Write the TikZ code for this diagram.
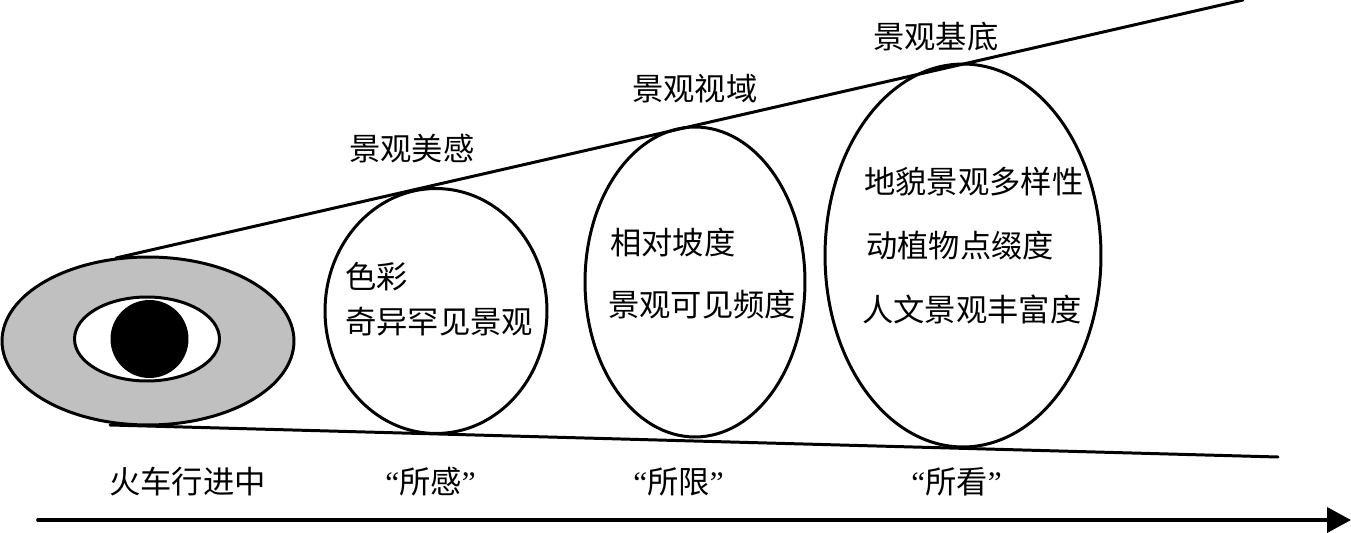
\documentclass[tikz,border=0pt]{standalone}
\usepackage{fontspec}
\usepackage{xcolor}
\usetikzlibrary{shapes.geometric,arrows.meta}
\newfontfamily\cjk{Noto Sans CJK SC}
\newfontfamily\quotefont{Liberation Serif}
\definecolor{eyegray}{HTML}{C0C0C0}
\newcommand{\quoted}[1]{{\quotefont “}#1{\quotefont ”}}
\tikzset{
  oval/.style={draw=black, line width=1.7pt, ellipse, inner sep=0pt},
  geom/.style={draw=black, line width=1.7pt, line cap=round},
  lab/.style={font=\cjk\fontsize{17.8}{20}\selectfont, inner sep=0pt, anchor=west},
}
\begin{document}
\begin{tikzpicture}[x=0.02cm, y=-0.02cm]
  \useasboundingbox (0,0) rectangle (1351,533);

  % eye
  \node[oval, fill=eyegray, minimum width=5.84cm, minimum height=3.36cm] (eyeouter) at (148,341) {};
  \node[oval, fill=white, minimum width=2.9cm, minimum height=1.68cm] (eyewhite) at (147,339) {};
  \node[circle, fill=black, inner sep=0pt, minimum size=1.56cm] (pupil) at (149.5,339) {};

  % ovals
  \node[oval, minimum width=4.44cm, minimum height=4.9cm] (ganoval) at (436,311) {};
  \node[oval, minimum width=4.4cm, minimum height=6.2cm] (xianoval) at (695,282) {};
  \node[oval, minimum width=5.52cm, minimum height=7.66cm] (kanoval) at (963,255.5) {};

  % sight lines
  \coordinate (uppera) at (116,258);
  \coordinate (upperb) at (1243,0);
  \coordinate (lowera) at (110,425);
  \coordinate (lowerb) at (1278,457);
  \draw[geom] (uppera) -- (upperb);
  \draw[geom] (lowera) -- (lowerb);

  % direction of travel
  \coordinate (traina) at (38,520);
  \coordinate (trainb) at (1351,520);
  \draw[geom, line width=2.1pt, -{Triangle[length=0.48cm, width=0.5cm]}] (traina) -- (trainb);

  % labels
  \node[lab] (meigan) at (349,149) {景观美感};
  \node[lab] (shiyu) at (632,89) {景观视域};
  \node[lab] (jidi) at (873,37) {景观基底};
  \node[lab] (secai) at (345,277) {色彩};
  \node[lab] (qiyi) at (345,322) {奇异罕见景观};
  \node[lab] (podu) at (610,243) {相对坡度};
  \node[lab] (pindu) at (608,305) {景观可见频度};
  \node[lab] (dimao) at (864,182) {地貌景观多样性};
  \node[lab] (dongzhi) at (866,246) {动植物点缀度};
  \node[lab] (renwen) at (862,309) {人文景观丰富度};
  \node[lab] (xingjin) at (109,482) {火车行进中};
  \node[lab] (suogan) at (385,482) {\quoted{所感}};
  \node[lab] (suoxian) at (633,482) {\quoted{所限}};
  \node[lab] (suokan) at (911,482) {\quoted{所看}};
\end{tikzpicture}
\end{document}
